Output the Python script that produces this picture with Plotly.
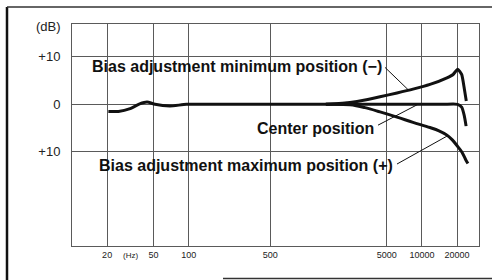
import plotly.graph_objects as go
import numpy as np

# ---- data ----
center_freq = [20.5, 25, 31.5, 38, 44, 51.5, 69, 96, 200, 1000, 5000, 15000, 20200, 21900, 23000, 23900]
center_db = [-1.5, -1.5, -0.9, 0.1, 0.5, 0.0, -0.35, 0.0, 0.0, 0.0, 0.0, 0.0, 0.0, -0.6, -2.3, -4.6]

min_freq = [1500, 2417, 3250, 4370, 6110, 8380, 11720, 16380, 18500, 20230, 21900, 23070, 23990]
min_db = [0.0, 0.4, 0.9, 1.6, 2.4, 3.2, 4.2, 5.6, 6.3, 7.4, 6.3, 3.3, 0.7]

max_freq = [1500, 2417, 3250, 4370, 6110, 8380, 11720, 14000, 16380, 18200, 19950, 22030, 23840, 24780]
max_db = [0.0, -0.1, -0.7, -1.6, -2.7, -3.8, -4.9, -5.6, -6.5, -7.5, -8.7, -10.1, -11.8, -12.5]

x_tick_vals = [20, 50, 100, 500, 5000, 10000, 20000]
x_tick_text = ["20", "50", "100", "500", "5000", "10000", "20000"]
y_tick_vals = [10, 0, -10]
y_tick_text = ["+10", "0", "+10"]

label_min = "Bias adjustment minimum position (\u2212)"
label_center = "Center position"
label_max = "Bias adjustment maximum position (+)"

# leader lines (freq, dB) from label to curve
leader_min_f = [4820, 7600]
leader_min_db = [7.8, 3.1]
leader_center_f = [4200, 9250]
leader_center_db = [-4.4, 0.0]
leader_max_f = [6110, 16700]
leader_max_db = [-12.6, -6.6]

FONT = "Liberation Sans"
INK = "#111111"
GRID = "#5a5a5a"

fig = go.Figure()

for f, d, sm in [(center_freq, center_db, 0.6), (min_freq, min_db, 0.5), (max_freq, max_db, 1.0)]:
    fig.add_trace(go.Scatter(x=f, y=d, mode="lines",
                             line=dict(color=INK, width=3, shape="spline", smoothing=sm),
                             hoverinfo="skip", showlegend=False))

for f, d in [(leader_min_f, leader_min_db), (leader_center_f, leader_center_db),
             (leader_max_f, leader_max_db)]:
    fig.add_trace(go.Scatter(x=f, y=d, mode="lines", line=dict(color=INK, width=1),
                             hoverinfo="skip", showlegend=False))

# white patches where grid lines are missing in the reference (paper coords)
def px2paper_x(px):
    return (px - 72) / 407.0

def px2paper_y(py):
    return (246 - py) / 222.0

gaps = [(91, 386, 59, 77), (170, 332, 77, 97), (99, 394, 153, 177), (170, 394, 177, 193)]
shapes = []
for x0, x1, y0, y1 in gaps:
    shapes.append(dict(type="rect", xref="paper", yref="paper",
                       x0=px2paper_x(x0), x1=px2paper_x(x1),
                       y0=px2paper_y(y0), y1=px2paper_y(y1),
                       fillcolor="white", line=dict(width=0), layer="between"))

# outer page frame
shapes.append(dict(type="line", xref="paper", yref="paper",
                   x0=px2paper_x(7), x1=px2paper_x(7), y0=px2paper_y(280), y1=px2paper_y(7),
                   line=dict(color="#111", width=2.5)))
shapes.append(dict(type="line", xref="paper", yref="paper",
                   x0=px2paper_x(7), x1=px2paper_x(492), y0=px2paper_y(7), y1=px2paper_y(7),
                   line=dict(color="#333", width=1.5)))
shapes.append(dict(type="line", xref="paper", yref="paper",
                   x0=px2paper_x(223), x1=px2paper_x(492), y0=px2paper_y(278.5), y1=px2paper_y(278.5),
                   line=dict(color="#333", width=1.5)))

annotations = [
    dict(text=label_min, x=1.150, y=8.0, xref="x", yref="y", xanchor="left", yanchor="middle",
         showarrow=False, font=dict(family=FONT, size=16, color=INK, weight=700)),
    dict(text=label_center, x=2.570, y=-5.05, xref="x", yref="y", xanchor="left", yanchor="middle",
         showarrow=False, font=dict(family=FONT, size=16, color=INK, weight=700)),
    dict(text=label_max, x=1.212, y=-12.84, xref="x", yref="y", xanchor="left", yanchor="middle",
         showarrow=False, font=dict(family=FONT, size=16, color=INK, weight=700)),
    dict(text="(dB)", x=px2paper_x(63), y=px2paper_y(27), xref="paper", yref="paper",
         xanchor="right", yanchor="middle", showarrow=False,
         font=dict(family=FONT, size=13, color="#222")),
    dict(text="(Hz)", x=np.log10(32), y=px2paper_y(255), xref="x", yref="paper",
         xanchor="center", yanchor="middle", showarrow=False,
         font=dict(family=FONT, size=8, color="#222")),
]

fig.update_layout(
    width=492, height=280,
    margin=dict(l=72, r=13, t=24, b=34),
    paper_bgcolor="white", plot_bgcolor="white",
    shapes=shapes, annotations=annotations,
    font=dict(family=FONT, color="#222"),
)
fig.update_xaxes(type="log", range=[1.0, 4.489], tickvals=x_tick_vals, ticktext=x_tick_text,
                 showgrid=True, gridcolor=GRID, gridwidth=1, showline=True, mirror=True,
                 linecolor=GRID, linewidth=1, zeroline=False, ticks="",
                 tickfont=dict(family=FONT, size=9, color="#222"))
fig.update_yaxes(range=[-29.9, 16.95], tickvals=y_tick_vals, ticktext=y_tick_text,
                 showgrid=True, gridcolor=GRID, gridwidth=1, showline=True, mirror=True,
                 linecolor=GRID, linewidth=1, zeroline=False, ticks="", ticklabelstandoff=8,
                 tickfont=dict(family=FONT, size=13, color="#222"))

fig.write_html("out.html", config={"displayModeBar": False},
               post_script="document.body.style.margin='0';document.body.style.padding='0';")
